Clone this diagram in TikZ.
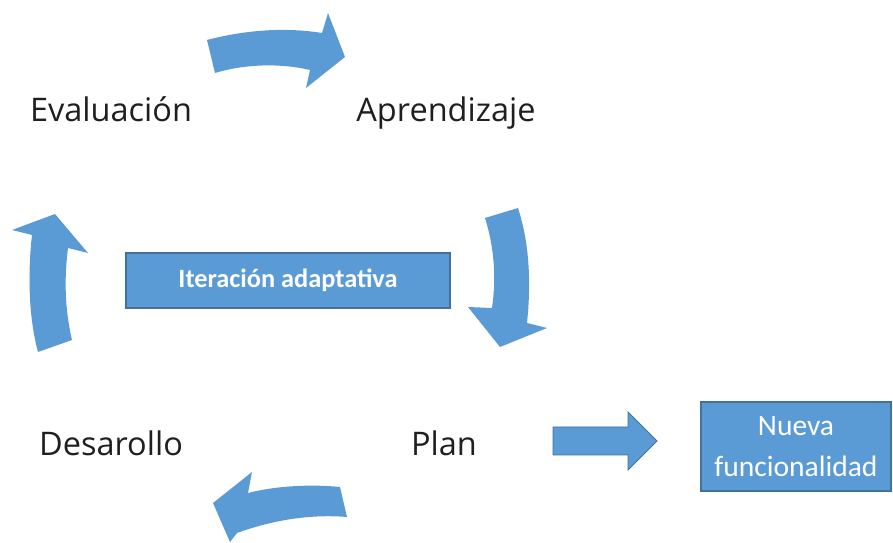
\documentclass[tikz,border=0pt]{standalone}
\usepackage{fontspec}
\setmainfont{Open Sans}
\newfontfamily\boxfont{Carlito}
\usetikzlibrary{positioning}
\definecolor{arrowblue}{HTML}{5B9BD5}
\definecolor{boxline}{HTML}{41719C}

\begin{document}
\begin{tikzpicture}[x=0.02cm,y=-0.02cm,
  cyclelabel/.style={anchor=base,inner sep=0pt,text=black!88,font=\fontsize{18.5}{22}\selectfont},
  bluebox/.style={fill=arrowblue,draw=boxline,line width=0.8pt,text=white,align=center},
  blockarrow/.style={fill=arrowblue}]

\useasboundingbox (0,0) rectangle (893,543);

% stages of the cycle
\node[cyclelabel] (eval) at (111,122) {Evaluación};
\node[cyclelabel] (learn) at (446,122) {Aprendizaje};
\node[cyclelabel] (dev) at (111,456) {Desarollo};
\node[cyclelabel] (plan) at (444,456) {Plan};

% boxes
\node[bluebox,minimum width=6.48cm,minimum height=1.1cm,font=\boxfont\bfseries\fontsize{15}{18}\selectfont] (iter) at (288,280.5) {Iteración adaptativa};
\node[bluebox,minimum width=3.8cm,minimum height=1.78cm,font=\boxfont\fontsize{16.8}{23}\selectfont] (new) at (796,446.5) {Nueva\\funcionalidad};

% curved arrows
\fill[blockarrow] (207,40) .. controls (245,30) and (285,27) .. (322,33) -- (328,13) -- (345,57) -- (306,88) -- (310,70)
  .. controls (280,63) and (245,64) .. (215,73) -- cycle;
\fill[blockarrow] (518,208) .. controls (530,245) and (531,285) .. (527,323) -- (547,328) -- (500,347) -- (468,307) -- (492,308)
  .. controls (496,280) and (495,250) .. (485,218) -- cycle;
\fill[blockarrow] (347,517) .. controls (310,514) and (273,520) .. (237,533) -- (230,542) -- (213,503) -- (252,472) -- (248,493)
  .. controls (275,486) and (310,484) .. (340,487) -- cycle;
\fill[blockarrow] (38,352) .. controls (28,315) and (28,270) .. (32,235) -- (12,230) -- (55,214) -- (88,253) -- (68,248)
  .. controls (64,280) and (65,310) .. (72,340) -- cycle;

% plan to new feature
\filldraw[blockarrow,draw=boxline,line width=0.5pt] (553,427) -- (628,427) -- (628,412) -- (657,441) -- (628,470) -- (628,455) -- (553,455) -- cycle;

\end{tikzpicture}
\end{document}
